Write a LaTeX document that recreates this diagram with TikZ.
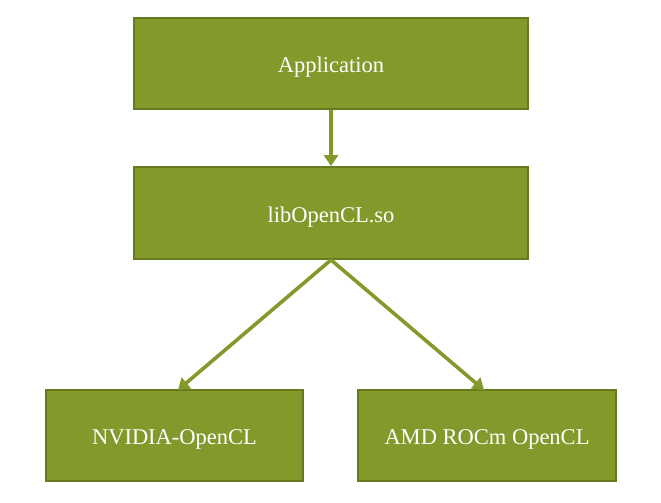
\documentclass[tikz,border=0pt]{standalone}
\usepackage{fontspec}
\setmainfont{Liberation Serif}
\usetikzlibrary{arrows.meta}
\definecolor{boxfill}{HTML}{84992C}
\definecolor{boxline}{HTML}{667A1E}
\definecolor{arr}{HTML}{84992C}
\begin{document}
\begin{tikzpicture}[x=1pt,y=-1pt,
  box/.style={draw=boxline,line width=1.8pt,fill=boxfill,text=white,inner sep=0pt,
    text height=19pt,text depth=1pt,
    font=\fontsize{22.5}{26}\selectfont},
  link/.style={draw=arr,line width=3.6pt,-{Triangle[length=11pt,width=14pt]}}]
\useasboundingbox (0,0) rectangle (661,503);
\node[box,minimum width=394pt,minimum height=91pt] (app) at (331,63.5) {Application};
\node[box,minimum width=394pt,minimum height=92pt] (lib) at (331,213) {libOpenCL.so};
\node[box,minimum width=257pt,minimum height=91pt] (nv) at (174.5,435.5) {NVIDIA-OpenCL};
\node[box,minimum width=258pt,minimum height=91pt] (amd) at (487,435.5) {AMD ROCm OpenCL};
\coordinate (nvt) at (178,390);
\coordinate (amdt) at (484,390);
\draw[link] (app.south) -- (lib.north);
\draw[link] (lib.south) -- (nvt);
\draw[link] (lib.south) -- (amdt);
\end{tikzpicture}
\end{document}
